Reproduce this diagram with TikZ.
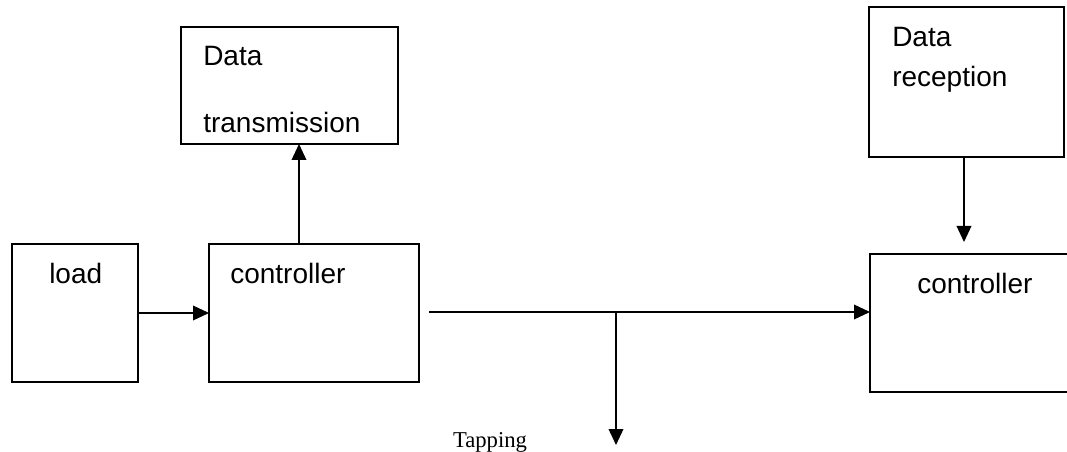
\documentclass[tikz,border=0pt]{standalone}
\usepackage{fontspec}
\setmainfont{Liberation Sans}
\newfontfamily\serifface{Liberation Serif}
\usetikzlibrary{arrows.meta}
\begin{document}
\begin{tikzpicture}[x=0.75pt,y=-0.75pt,
  blk/.style={draw,line width=1.1pt,inner sep=0pt,outer sep=0pt,anchor=north west},
  lbl/.style={inner sep=0pt,anchor=base west,font=\fontsize{21}{25}\selectfont},
  conn/.style={line width=1.1pt,-{Triangle[length=12pt,width=11pt]}},
  plain/.style={line width=1.1pt}]
\useasboundingbox (0,0) rectangle (1067,452);
% boxes
\node[blk,minimum width=217*0.75pt,minimum height=117*0.75pt] (dt) at (181,27) {};
\node[blk,minimum width=195*0.75pt,minimum height=150*0.75pt] (dr) at (869,7) {};
\node[blk,minimum width=126*0.75pt,minimum height=138*0.75pt] (load) at (12,244) {};
\node[blk,minimum width=210*0.75pt,minimum height=138*0.75pt] (c1) at (209,244) {};
\begin{scope}
\clip (0,0) rectangle (1067,452);
\node[blk,minimum width=220*0.75pt,minimum height=138*0.75pt] (c2) at (870,254) {};
\end{scope}
% labels
\node[lbl] (dtA) at (203,66) {Data};
\node[lbl] (dtB) at (203,133) {transmission};
\node[lbl] (drA) at (892,47) {Data};
\node[lbl] (drB) at (892,87) {reception};
\node[lbl] (loadT) at (49,283) {load};
\node[lbl] (c1T) at (230,283) {controller};
\node[lbl] (c2T) at (917,293) {controller};
\node[inner sep=0pt,anchor=base,font=\serifface\fontsize{17}{20}\selectfont] (tap) at (490,447) {Tapping};
% coordinates
\coordinate (hs) at (429,312);
\coordinate (tj) at (616,312);
\coordinate (te) at (616,445);
\coordinate (de) at (964,242);
% connectors
\draw[conn] (load.east |- 0,313) -- (c1.west |- 0,313);
\draw[conn] (c1.north -| 299,0) -- (dt.south -| 299,0);
\draw[conn] (hs) -- (hs -| c2.west);
\draw[conn] (tj) -- (te);
\draw[conn] (dr.south -| de) -- (de);
\end{tikzpicture}
\end{document}
